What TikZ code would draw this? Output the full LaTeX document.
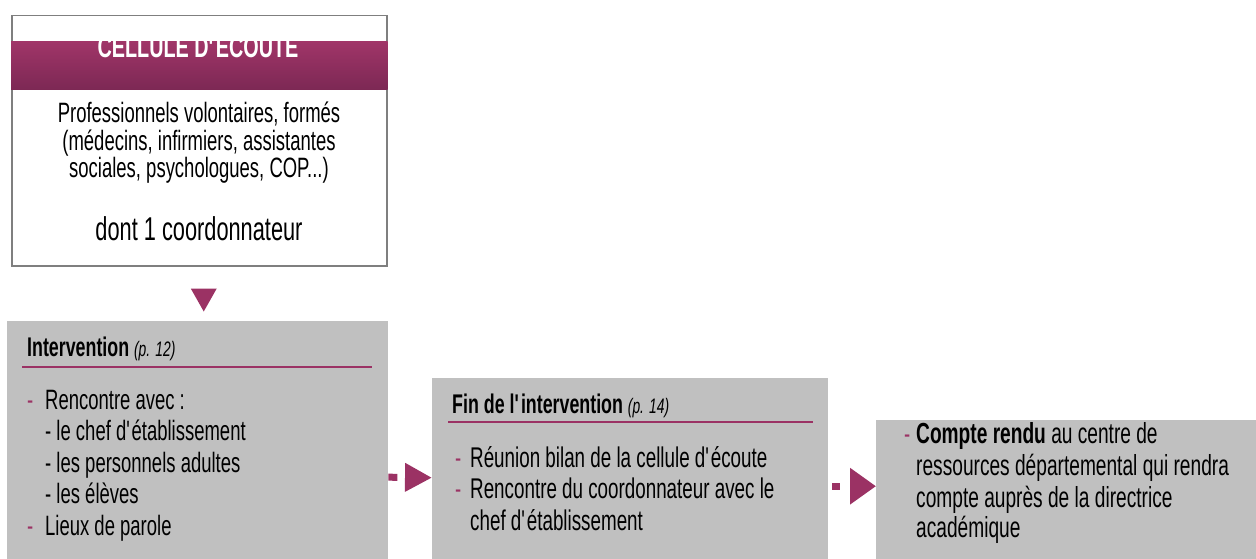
\documentclass[tikz,border=0pt]{standalone}
\usepackage{fontspec}
\setmainfont{Liberation Sans}[FakeStretch=0.66]
\usetikzlibrary{arrows.meta,calc}
\definecolor{plum}{RGB}{155,50,100}
\definecolor{plumtop}{RGB}{160,53,104}
\definecolor{plumbot}{RGB}{124,40,84}
\definecolor{boxgray}{RGB}{192,192,192}
\definecolor{edgegray}{RGB}{127,127,127}
\newcommand{\q}{\textquotesingle}
\newcommand{\pgref}[1]{{\itshape\fontsize{21}{24}\selectfont #1}}
\begin{document}
\begin{tikzpicture}[x=1pt,y=-1pt,
  txt/.style={anchor=base west, inner sep=0, font=\fontsize{28}{32}\selectfont},
  ftxt/.style={anchor=base west, inner sep=0, font=\fontsize{28.5}{32}\selectfont},
  ctxtr/.style={anchor=base west, inner sep=0, font=\fontsize{29}{32}\selectfont},
  ctxt/.style={anchor=base, inner sep=0, font=\fontsize{28}{32}\selectfont},
  dsh/.style={anchor=base west, inner sep=0, text=plum, font=\fontsize{28}{32}\selectfont},
  hd/.style={anchor=base west, inner sep=0, font=\fontsize{27}{30}\selectfont},
  gbox/.style={fill=boxgray, draw=none, anchor=north west, inner sep=0},
  rulestyle/.style={plum, line width=1.5},
  arr/.style={plum, line width=7},
]
\useasboundingbox (0,0) rectangle (1256,559);

% top box
\node[draw=edgegray, line width=1.5, fill=white, minimum width=375, minimum height=250, anchor=north west, inner sep=0] (top) at (11,15) {};
\shade[top color=plumtop, bottom color=plumbot] ($(top.north west)+(0,27)$) rectangle ($(top.north east)+(0,75)$);
\begin{scope}
\clip ($(top.north west)+(0,27)$) rectangle ($(top.north east)+(0,75)$);
\node[anchor=base, inner sep=0, text=white, font=\bfseries\fontsize{30}{32}\selectfont] (title) at (198,58) {CELLULE D\q ÉCOUTE};
\end{scope}
\node[ctxt] (t1) at (199,123) {Professionnels volontaires, formés};
\node[ctxt] (t2) at (199,151) {(médecins, infirmiers, assistantes};
\node[ctxt] (t3) at (199,178) {sociales, psychologues, COP...)};
\node[anchor=base, inner sep=0, font=\fontsize{33}{36}\selectfont] (t4) at (199,240) {dont 1 coordonnateur};

% grey boxes
\node[gbox, minimum width=381, minimum height=238] (int) at (7,321) {};
\node[gbox, minimum width=396, minimum height=181] (fin) at (432,378) {};
\node[gbox, minimum width=380, minimum height=139] (cr) at (876,420) {};

% down triangle
\fill[plum] ($(top.south)+(-8.5,22)$) -- ++(26,0) -- ++(-13,23) -- cycle;

% Intervention
\node[hd] (ih) at (27,356) {\textbf{Intervention} \pgref{(p. 12)}};
\draw[rulestyle] ($(int.north west)+(15,46)$) -- ($(int.north east)+(-16,46)$);
\node[dsh] (id1) at (27,409) {-};
\node[txt] (i1) at (45,409) {Rencontre avec :};
\node[txt] (i2) at (45,440) {- le chef d\q établissement};
\node[txt] (i3) at (45,472) {- les personnels adultes};
\node[txt] (i4) at (45,503) {- les élèves};
\node[dsh] (id2) at (27,535) {-};
\node[txt] (i5) at (45,535) {Lieux de parole};

% Fin de l'intervention
\node[hd] (fh) at (452,413) {\textbf{Fin de l\q intervention} \pgref{(p. 14)}};
\draw[rulestyle] ($(fin.north west)+(16,44)$) -- ($(fin.north east)+(-15,44)$);
\node[dsh] (fd1) at (455,467) {-};
\node[ftxt] (f1) at (470,467) {Réunion bilan de la cellule d\q écoute};
\node[dsh] (fd2) at (455,498) {-};
\node[ftxt] (f2) at (470,498) {Rencontre du coordonnateur avec le};
\node[ftxt] (f3) at (470,530) {chef d\q établissement};

% Compte rendu
\node[dsh] (cd1) at (904,443) {-};
\node[ctxtr] (c1) at (916,443) {\textbf{Compte rendu} au centre de};
\node[ctxtr] (c2) at (916,475) {ressources départemental qui rendra};
\node[ctxtr] (c3) at (916,507) {compte auprès de la directrice};
\node[ctxtr] (c4) at (916,537) {académique};

% arrows
\draw[arr, dash pattern=on 9 off 60, -{Triangle[length=27,width=27]}] ($(int.east)+(0,37)$) -- ($(fin.west)+(0,9)$);
\draw[arr, dash pattern=on 0 off 4 on 8 off 60, -{Triangle[length=26,width=35]}] ($(fin.east)+(0,17.5)$) -- ($(cr.west)+(0,-3.5)$);
\end{tikzpicture}
\end{document}
